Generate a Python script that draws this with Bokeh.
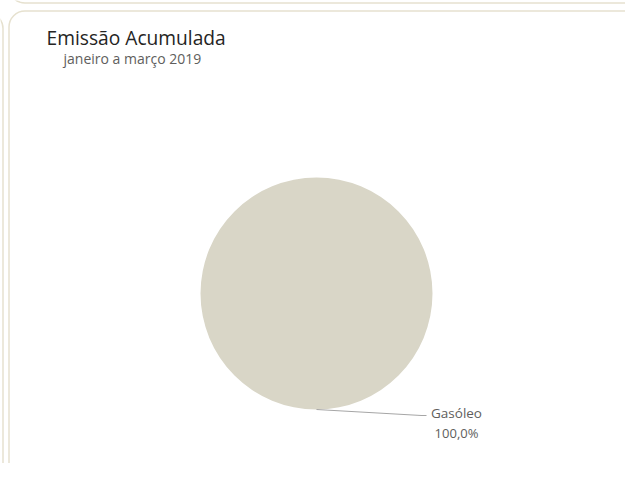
import numpy as np
from bokeh.plotting import figure
from bokeh.models import Range1d, BoxAnnotation, Label, ColumnDataSource
from bokeh.embed import file_html
from bokeh.resources import INLINE

# ---- data ----
categories = ["Gasóleo"]
values = [100.0]
title_text = "Emissão Acumulada"
subtitle_text = "janeiro a março 2019"

W, H = 625, 463
p = figure(width=W, height=H, output_backend="svg", toolbar_location=None,
           x_range=Range1d(0, W), y_range=Range1d(0, H), min_border=0)
p.axis.visible = False
p.grid.visible = False
p.outline_line_color = None
p.background_fill_color = "white"
p.border_fill_color = "white"

border_col = "#e6e1cf"
box_kw = dict(fill_alpha=0, line_color=border_col, line_alpha=1.0,
              line_width=1.5, border_radius=16)
# main panel border
p.add_layout(BoxAnnotation(left=8.5, right=W + 30, top=H - 10.5, bottom=-40, **box_kw))
# neighbouring panels (edges only)
p.add_layout(BoxAnnotation(left=8.5, right=W + 30, top=H + 40, bottom=H - 2.5, **box_kw))
p.add_layout(BoxAnnotation(left=-40, right=2.5, top=H - 12, bottom=-40, **box_kw))

# pie
cx, cy, r = 316, 170, 116
total = sum(values)
fr = np.array(values) / total
ends = np.cumsum(fr) * 2 * np.pi
starts = np.concatenate([[0], ends[:-1]])
src = ColumnDataSource(dict(start=starts, end=ends, cat=categories,
                            color=["#d9d6c7"]))
p.wedge(x=cx, y=cy, radius=r, start_angle="start", end_angle="end",
        fill_color="color", line_color=None, source=src)

# leader line from the bottom of the pie
ang = -np.pi / 2
x0, y0 = cx + r * np.cos(ang), cy + r * np.sin(ang)
p.line(x=[x0, 421, 426], y=[y0, 48, 48], line_color="#a6a6a6", line_width=1.2)

lab_x = 456
p.add_layout(Label(x=lab_x, y=51, text=categories[0], text_align="center",
                   text_baseline="middle", text_font="Open Sans",
                   text_font_size="13.5px", text_color="#605e5c"))
p.add_layout(Label(x=lab_x, y=31, text=f"{values[0] / total * 100:.1f}%".replace(".", ","),
                   text_align="center", text_baseline="middle", text_font="Open Sans",
                   text_font_size="13px", text_color="#605e5c"))

# titles
p.add_layout(Label(x=46, y=426, text=title_text, text_align="left",
                   text_baseline="middle", text_font="Open Sans",
                   text_font_size="19.2px", text_color="#252423"))
p.add_layout(Label(x=63, y=405, text=subtitle_text, text_align="left",
                   text_baseline="middle", text_font="Open Sans",
                   text_font_size="14px", text_color="#605e5c"))

open("out.html", "w").write(file_html(p, INLINE))
